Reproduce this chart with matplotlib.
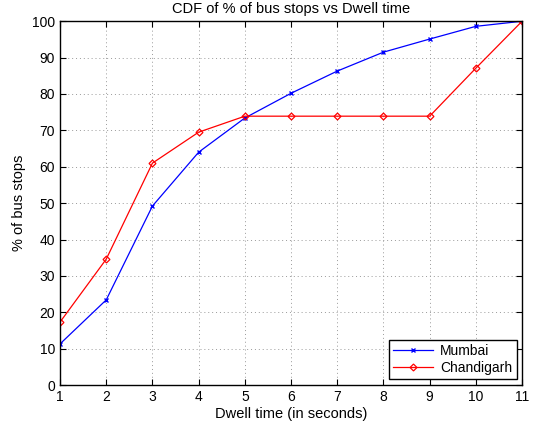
import numpy as np
import matplotlib
matplotlib.use("Agg")
import matplotlib.pyplot as plt

plt.rcParams['font.family'] = ['Liberation Sans', 'DejaVu Sans']

dwell_time = [1, 2, 3, 4, 5, 6, 7, 8, 9, 10, 11]
mumbai = [11.3, 23.4, 49.2, 64.0, 73.4, 80.2, 86.3, 91.5, 95.1, 98.6, 100.0]
chandigarh = [17.3, 34.6, 61.0, 69.5, 73.9, 73.9, 73.9, 73.9, 73.9, 87.1, 100.0]

fig = plt.figure(figsize=(5.36, 4.23), dpi=100)
ax = fig.add_axes([0.112, 0.0898, 0.862, 0.860])

ax.plot(dwell_time, mumbai, color='blue', marker='x', markersize=3.5,
        linewidth=0.9, label='Mumbai')
ax.plot(dwell_time, chandigarh, color='red', marker='D', markersize=3.5,
        markerfacecolor='none', markeredgewidth=0.9, linewidth=0.9,
        label='Chandigarh')

ax.set_xlim(1, 11)
ax.set_ylim(0, 100)
ax.set_xticks(range(1, 12))
ax.set_yticks(range(0, 101, 10))
ax.tick_params(direction='in', top=True, right=True, labelsize=10, length=4)
ax.grid(True, linestyle=(0, (1, 3)), color='#999999', linewidth=0.7)
for s in ax.spines.values():
    s.set_linewidth(1.0)

ax.set_title('CDF of % of bus stops vs Dwell time', fontsize=10.5)
ax.set_xlabel('Dwell time (in seconds)', fontsize=10.5, labelpad=2)
ax.set_ylabel('% of bus stops', fontsize=10.5)

leg = ax.legend(loc='lower right', fontsize=10, fancybox=False,
                framealpha=1, edgecolor='black', borderaxespad=0.4,
                handlelength=2.9, labelspacing=0.25, borderpad=0.3,
                handletextpad=0.5)
leg.get_frame().set_linewidth(1.0)

fig.savefig('out.png', dpi=100)
